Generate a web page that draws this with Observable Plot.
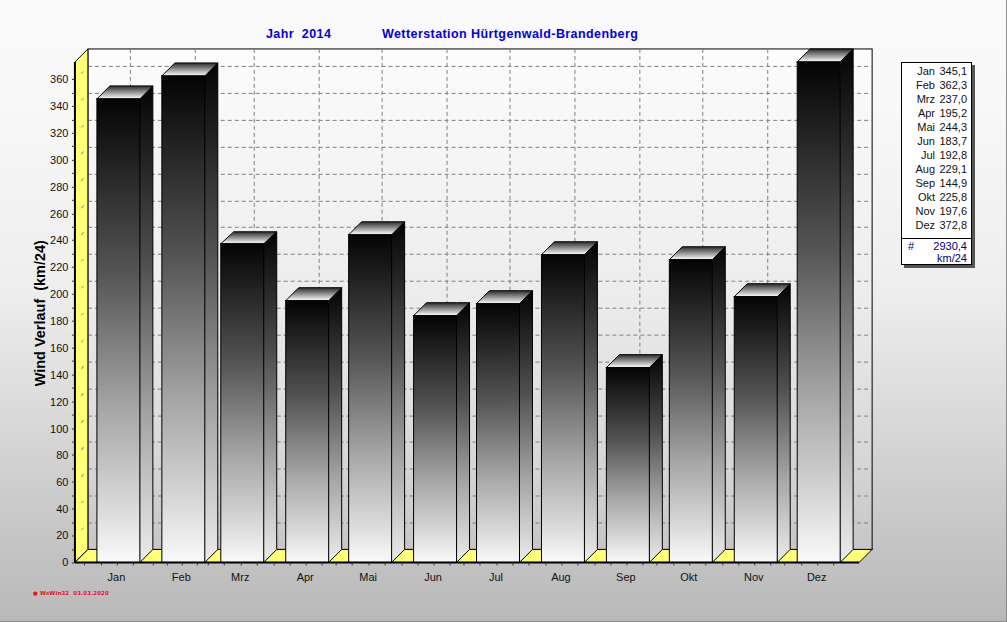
<!DOCTYPE html>
<html lang="de">
<head>
<meta charset="utf-8">
<title>Wind Verlauf 2014</title>
<script src="https://cdn.jsdelivr.net/npm/d3@7"></script>
<script src="https://cdn.jsdelivr.net/npm/@observablehq/plot@0.6"></script>
<style>
html,body{margin:0;padding:0;}
#page{position:relative;width:1007px;height:622px;overflow:hidden;box-sizing:border-box;
  border-right:1px solid #8c8c8c;border-bottom:1px solid #8c8c8c;
  background:linear-gradient(to bottom,#fafafa 0,#f8f8f8 100px,#eeeeee 290px,#dcdcdc 400px,#c8c8c8 520px,#b9b9b9 621px);
  font-family:"Liberation Sans",Arial,sans-serif;}
#chart{position:absolute;left:0;top:0;}
.title{position:absolute;top:27px;font-weight:bold;font-size:12.5px;letter-spacing:.42px;line-height:14px;color:#0000e6;white-space:pre;}
#legend{position:absolute;left:901px;top:62px;width:69px;height:201px;background:#fff;border:1px solid #000;
  box-shadow:3px 3px 0 #555;font-size:11px;color:#111;}
#legend .row{position:absolute;height:14px;line-height:14px;left:0;width:100%;}
#legend span{position:absolute;white-space:pre;}
#legend .m{right:36px;} #legend .v{right:4px;}
#legend hr{position:absolute;left:0;right:0;top:175px;margin:0;border:0;border-top:1px solid #000;}
#legend .tot{color:#000080;}
#foot{position:absolute;left:33px;top:589px;font:bold 5.4px/8px "DejaVu Sans",sans-serif;color:#e81010;white-space:pre;letter-spacing:.15px;}
</style>
</head>
<body>
<div id="page">
  <div id="chart"></div>
  <div class="title" style="left:266px">Jahr  2014</div>
  <div class="title" style="left:382px">Wetterstation Hürtgenwald-Brandenberg</div>
  <div id="legend"></div>
  <div id="foot">● WsWin32  03.03.2020</div>
</div>
<script>
const months = ["Jan","Feb","Mrz","Apr","Mai","Jun","Jul","Aug","Sep","Okt","Nov","Dez"];
const monthDays = [31,28,31,30,31,30,31,31,30,31,30,31];
const values = [345.1,362.3,237.0,195.2,244.3,183.7,192.8,229.1,144.9,225.8,197.6,372.8];
const totalLabel = "2930,4";
const unitLabel = "km/24";
const yTitle = "Wind Verlauf  (km/24)";
const yTicks = d3.range(0,361,10);
const gridY = d3.range(20,361,20);

// x is day of the year, so February's short month shows in the spacing
const starts = d3.cumsum([0,...monthDays.slice(0,-1)]);
const xMin = -10.48, xMax = 363.6;   // front plane extent (days)
const yMax = 382.47;
const depthX = 6.2, depthY = 9.67;   // 3-D offset in data units
const barDays = 20.7, tickDay = 9.5;
const frontTop = 372.8;
const centres = starts.map(s => s + tickDay);
const minorTicks = months.flatMap((m,i) => [-2,-1,0,1].map(k => centres[i] + k*monthDays[i]/4));

const bars = months.map((m,i) => ({m, v:values[i], a:starts[i], b:starts[i]+barDays}));
const side = bars.flatMap(d => [
  {m:d.m, x:d.b, y1:0, y2:d.v},
  {m:d.m, x:d.b+depthX, y1:depthY, y2:d.v+depthY}]);
const top3d = bars.flatMap(d => [
  {m:d.m, x:d.a, y1:d.v, y2:d.v},
  {m:d.m, x:d.a+depthX, y1:d.v, y2:d.v+depthY},
  {m:d.m, x:d.b, y1:d.v, y2:d.v+depthY},
  {m:d.m, x:d.b+depthX, y1:d.v+depthY, y2:d.v+depthY}]);
const leftWall = [
  {x:xMin, y1:0, y2:frontTop},
  {x:xMin+depthX, y1:depthY, y2:yMax}];
const floor = [
  {x:xMin, y1:0, y2:0},
  {x:xMin+depthX, y1:0, y2:depthY},
  {x:xMax, y1:0, y2:depthY},
  {x:xMax+depthX, y1:depthY, y2:depthY}];

function grad(id, stops){
  return `<linearGradient id="${id}" x1="0" y1="0" x2="0" y2="1">` +
    stops.map(([o,c]) => `<stop offset="${o}" stop-color="${c}"/>`).join("") + `</linearGradient>`;
}
const defs = () => {
  const g = d3.create("svg:defs");
  g.html(
    grad("gWall",[[0,"#fcfcfc"],[0.5,"#ececec"],[0.8,"#d8d8d8"],[1,"#c6c6c6"]]) +
    grad("gFront",[[0,"#040404"],[0.376,"#555555"],[0.676,"#a8a8a8"],[0.876,"#d8d8d8"],[1,"#fafafa"]]) +
    grad("gSide",[[0,"#040404"],[0.376,"#505050"],[0.676,"#a0a0a0"],[1,"#ececec"]]) +
    grad("gTop",[[0,"#2c2c2c"],[1,"#ffffff"]]));
  return g.node();
};
const lineOpts = {stroke:"#000", strokeWidth:1};
const dash = {stroke:"#808080", strokeWidth:1, strokeDasharray:"4 3"};

const plot = Plot.plot({
  width:1007, height:622,
  marginLeft:75, marginRight:147, marginTop:49, marginBottom:59,
  style:{background:"transparent", fontFamily:'"Liberation Sans",Arial,sans-serif', fontSize:"11px", color:"#111"},
  x:{type:"linear", domain:[xMin,xMax], round:true},
  y:{type:"linear", domain:[0,yMax], round:true},
  marks:[
    defs,
    Plot.rect([0],{x1:xMin+depthX, x2:xMax+depthX, y1:depthY, y2:yMax, fill:"url(#gWall)", ...lineOpts}),
    Plot.ruleY(gridY,{y:d=>d+depthY, x1:xMin+depthX, x2:xMax+depthX, ...dash}),
    Plot.ruleX(centres,{x:d=>d+depthX, y1:depthY, y2:yMax, ...dash}),
    Plot.area(leftWall,{x1:"x",y1:"y1",y2:"y2",fill:"#ffff78",...lineOpts}),
    Plot.link(gridY,{x1:xMin+depthX*0.45, x2:xMin+depthX*0.65, y1:d=>d+depthY*0.45, y2:d=>d+depthY*0.65, stroke:"#777", strokeWidth:1}),
    Plot.area(floor,{x1:"x",y1:"y1",y2:"y2",fill:"#ffff78",...lineOpts}),
    Plot.area(side,{x1:"x",y1:"y1",y2:"y2",z:"m",fill:"url(#gSide)",...lineOpts}),
    Plot.area(top3d,{x1:"x",y1:"y1",y2:"y2",z:"m",fill:"url(#gTop)",...lineOpts}),
    Plot.rect(bars,{x1:"a",x2:"b",y1:0,y2:"v",fill:"url(#gFront)",...lineOpts}),
    Plot.ruleY([0],{x1:xMin,x2:xMax,stroke:"#000",strokeWidth:2,dy:-0.5}),
    Plot.ruleX([xMin],{y1:0,y2:frontTop,stroke:"#000",strokeWidth:2,dx:-0.5}),
    Plot.axisY({ticks:yTicks, tickFormat:d=>d%20?"":d, tickSize:3, tickPadding:4, label:null, stroke:"#333", fill:"#111"}),
    Plot.axisX({ticks:minorTicks, tickSize:3, tickFormat:()=>"", label:null, stroke:"#333"}),
    Plot.axisX({ticks:centres, tickSize:0, tickPadding:10, tickFormat:d=>months[centres.indexOf(d)], label:null, fill:"#111", dx:-1}),
    Plot.text([yTitle],{frameAnchor:"left", textAnchor:"middle", rotate:-90, dx:-35, dy:7, fontSize:14.5, fontWeight:"bold", fill:"#000"})
  ]
});
document.getElementById("chart").append(plot);

const lg = d3.select("#legend");
months.forEach((m,i)=>{
  const r = lg.append("div").attr("class","row").style("top",(i*14+1)+"px");
  r.append("span").attr("class","m").text(m);
  r.append("span").attr("class","v").text(values[i].toFixed(1).replace(".",","));
});
lg.append("hr");
const t1 = lg.append("div").attr("class","row tot").style("top","176px");
t1.append("span").style("left","6px").text("#");
t1.append("span").attr("class","v").text(totalLabel);
const t2 = lg.append("div").attr("class","row tot").style("top","188px");
t2.append("span").attr("class","v").text(unitLabel);
</script>
</body>
</html>
